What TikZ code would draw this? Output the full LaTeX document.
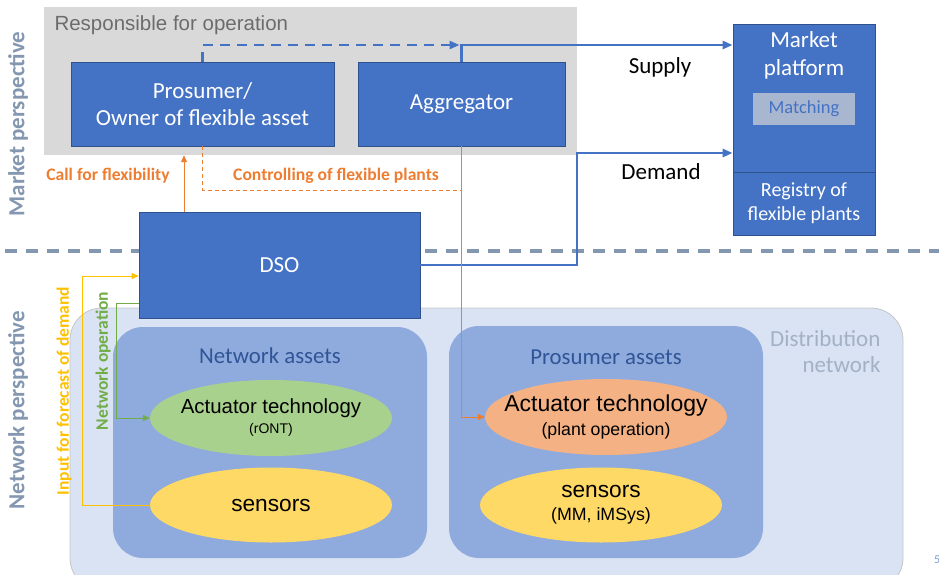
\documentclass[tikz,border=0pt]{standalone}
\usepackage{fontspec}
\setmainfont{Carlito}
\newfontfamily\arialf{Liberation Sans}
\usetikzlibrary{arrows.meta,shapes.geometric,calc}
\definecolor{boxblue}{HTML}{4472C4}
\definecolor{boxedge}{HTML}{2F528F}
\definecolor{grayresp}{HTML}{D9D9D9}
\definecolor{distfill}{HTML}{DAE3F3}
\definecolor{assetfill}{HTML}{8FAADC}
\definecolor{assettext}{HTML}{2F5597}
\definecolor{persp}{HTML}{8497B0}
\definecolor{orng}{HTML}{ED7D31}
\definecolor{yel}{HTML}{FFC000}
\definecolor{grn}{HTML}{70AD47}
\definecolor{actgreen}{HTML}{A9D18E}
\definecolor{actorange}{HTML}{F4B183}
\definecolor{sensyellow}{HTML}{FFD966}
\definecolor{matchfill}{HTML}{A9B6CF}
\definecolor{distlabel}{HTML}{A3B1C6}
\tikzset{
  bluebox/.style={draw=boxedge, line width=0.8pt, fill=boxblue, text=white, font=\fontsize{23}{27}\selectfont, align=center, inner sep=0pt},
  ell/.style={ellipse, inner xsep=-40pt, inner ysep=0pt, align=center, text=black},
  bluearrow/.style={draw=boxblue, line width=2.6pt, -{Triangle[length=10pt,width=8pt]}},
  thinarrow/.style={line width=1pt, -{Triangle[length=7pt,width=6pt]}},
  lbl/.style={font=\fontsize{17.6}{20}\selectfont\bfseries},
}
\begin{document}
\begin{tikzpicture}[x=1pt,y=-1pt]
\useasboundingbox (0,0) rectangle (939,575);
% background regions
\node[fill=grayresp, minimum width=533pt, minimum height=148pt, inner sep=0pt] (resp) at (310.5,81) {};
\node[anchor=west, text=gray!85!black, font=\arialf\fontsize{20.5}{24}\selectfont] (resplbl) at (51,25) {Responsible for operation};
\draw[fill=distfill, draw=gray!45, line width=0.8pt, rounded corners=32pt] (70,308) rectangle (903,590);
\draw[persp, line width=4pt, dash pattern=on 12pt off 9pt] (5,251) -- (939,251);
\fill[assetfill, rounded corners=30pt] (113,327) rectangle (427,558);
\fill[assetfill, rounded corners=30pt] (449,326) rectangle (763,558);
\node[text=assettext, font=\fontsize{22.8}{26}\selectfont] (netlbl) at (270,356) {Network assets};
\node[text=assettext, font=\fontsize{22.8}{26}\selectfont] (proslbl) at (606,357) {Prosumer assets};
\node[text=distlabel, font=\fontsize{23}{26}\selectfont, align=right, anchor=north east] (distlbl) at (884,327) {Distribution\\network};
% perspective labels
\node[rotate=90, text=persp, font=\fontsize{23}{26}\selectfont\bfseries] (mp) at (18,124) {Market perspective};
\node[rotate=90, text=persp, font=\fontsize{23}{26}\selectfont\bfseries] (np) at (18,410) {Network perspective};
% boxes
\node[bluebox, minimum width=263pt, minimum height=84pt] (pros) at (202.5,104) {Prosumer/\\Owner of flexible asset};
\node[bluebox, minimum width=207pt, minimum height=84pt] (agg) at (461.5,104) {Aggregator};
\node[bluebox, minimum width=281pt, minimum height=106pt] (dso) at (279.5,265) {DSO};
\node[bluebox, minimum width=142pt, minimum height=211pt] (market) at (804,129.5) {};
\node[text=white, font=\fontsize{23}{28}\selectfont, align=center, anchor=north, inner sep=0pt] (mktlbl) at (804,31) {Market\\platform};
\node[fill=matchfill, minimum width=102pt, minimum height=32pt, inner sep=0pt, text=boxblue, font=\fontsize{18.5}{21}\selectfont] (match) at (804,109) {Matching};
\node[bluebox, minimum width=142pt, minimum height=63pt, font=\fontsize{20}{24}\selectfont] (reg) at (804,203.5) {Registry of\\flexible plants};
% ellipses
\node[ell, fill=actgreen, minimum width=242pt, minimum height=76pt, font=\arialf\fontsize{20.4}{20}\selectfont] (nact) at (271,418) {Actuator technology\\{\fontsize{14}{16}\selectfont (rONT)}};
\node[ell, fill=sensyellow, minimum width=242pt, minimum height=75pt, font=\arialf\fontsize{22.7}{26}\selectfont] (nsens) at (271,505) {sensors};
\node[ell, fill=actorange, minimum width=242pt, minimum height=76pt, font=\arialf\fontsize{23}{24}\selectfont] (pact) at (606,417) {Actuator technology\\{\fontsize{17.7}{20}\selectfont (plant operation)}};
\node[ell, fill=sensyellow, minimum width=242pt, minimum height=75pt, font=\arialf\fontsize{22.7}{23}\selectfont] (psens) at (601,505) {sensors\\{\fontsize{17.8}{20}\selectfont (MM, iMSys)}};
% market arrows
\coordinate (busY) at (0,45);
\coordinate (demY) at (0,153);
\draw[boxblue, line width=2.6pt, dash pattern=on 10pt off 7pt, -{Triangle[length=10pt,width=8pt]}] (pros.north) |- ($(agg.north |- busY)+(-2,0)$);
\draw[bluearrow] (agg.north) |- (market.west |- busY);
\draw[bluearrow] (dso.east) -| (577,153) -- (market.west |- demY);
\node[font=\fontsize{23}{26}\selectfont] (supply) at (660,67) {Supply};
\node[font=\fontsize{23}{26}\selectfont] (demand) at (661,172) {Demand};
% orange connectors
\draw[orng, thinarrow] (dso.north -| 184,0) -- (resp.south -| 184,0);
\draw[orng, line width=1pt, dash pattern=on 4pt off 3pt] (pros.south) |- (agg.south |- 0,190);
\draw[orng, thinarrow] (agg.south) |- (pact.west);
\node[lbl, text=orng] (callf) at (108,176) {Call for flexibility};
\node[lbl, text=orng] (ctrl) at (336,176) {Controlling of flexible plants};
% network connectors
\draw[yel, thinarrow] (nsens.west) -| (82,276) -- (dso.west |- 0,276);
\draw[grn, thinarrow] (dso.west |- 0,303) -| (116,418) -- (nact.west);
\node[rotate=90, text=yel, font=\fontsize{17.5}{20}\selectfont\bfseries] (inlbl) at (64,391) {Input for forecast of demand};
\node[rotate=90, text=grn, font=\fontsize{17.5}{20}\selectfont\bfseries] (oplbl) at (103,361) {Network operation};
\node[anchor=west, text=boxblue!70, font=\fontsize{12}{14}\selectfont, inner sep=0pt] (pg) at (934,560) {5};
\end{tikzpicture}
\end{document}
